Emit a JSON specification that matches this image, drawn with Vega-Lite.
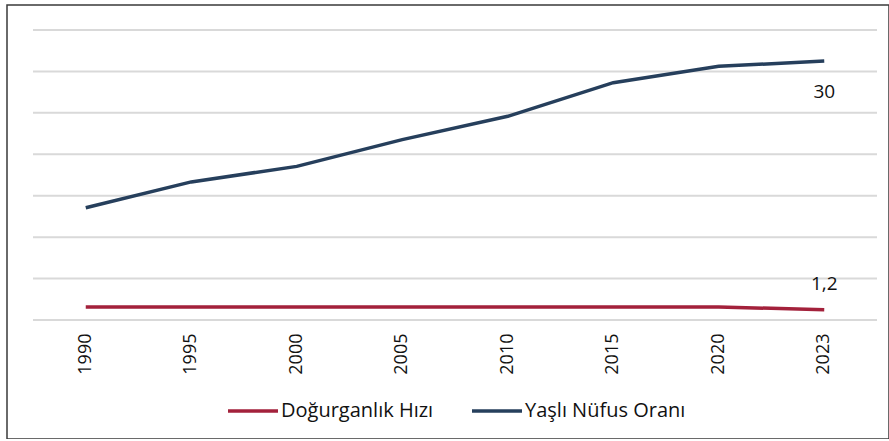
{
  "$schema": "https://vega.github.io/schema/vega-lite/v6.json",
  "width": 882,
  "height": 434,
  "padding": {"left": 7, "top": 5, "right": 0, "bottom": 0},
  "autosize": {"type": "none"},
  "background": "white",
  "config": {
    "view": {"stroke": "#3a3a3a", "strokeWidth": 1.5},
    "font": "Open Sans"
  },
  "datasets": {
    "series": [
      {"year": "1990", "series": "Doğurganlık Hızı", "value": 1.5, "label": ""},
      {"year": "1995", "series": "Doğurganlık Hızı", "value": 1.5, "label": ""},
      {"year": "2000", "series": "Doğurganlık Hızı", "value": 1.5, "label": ""},
      {"year": "2005", "series": "Doğurganlık Hızı", "value": 1.5, "label": ""},
      {"year": "2010", "series": "Doğurganlık Hızı", "value": 1.5, "label": ""},
      {"year": "2015", "series": "Doğurganlık Hızı", "value": 1.5, "label": ""},
      {"year": "2020", "series": "Doğurganlık Hızı", "value": 1.5, "label": ""},
      {"year": "2023", "series": "Doğurganlık Hızı", "value": 1.2, "label": "1,2"},
      {"year": "1990", "series": "Yaşlı Nüfus Oranı", "value": 13.0, "label": ""},
      {"year": "1995", "series": "Yaşlı Nüfus Oranı", "value": 16.0, "label": ""},
      {"year": "2000", "series": "Yaşlı Nüfus Oranı", "value": 17.8, "label": ""},
      {"year": "2005", "series": "Yaşlı Nüfus Oranı", "value": 20.9, "label": ""},
      {"year": "2010", "series": "Yaşlı Nüfus Oranı", "value": 23.6, "label": ""},
      {"year": "2015", "series": "Yaşlı Nüfus Oranı", "value": 27.5, "label": ""},
      {"year": "2020", "series": "Yaşlı Nüfus Oranı", "value": 29.4, "label": ""},
      {"year": "2023", "series": "Yaşlı Nüfus Oranı", "value": 30.0, "label": "30"}
    ],
    "grid": [
      {"v": 0}, {"v": 4.8}, {"v": 9.6}, {"v": 14.4},
      {"v": 19.2}, {"v": 24}, {"v": 28.8}, {"v": 33.6}
    ]
  },
  "data": {"name": "series"},
  "layer": [
    {
      "data": {"name": "grid"},
      "mark": {"type": "rule", "color": "#d9d9d9", "strokeWidth": 2},
      "encoding": {
        "y": {"field": "v", "type": "quantitative", "axis": null,
              "scale": {"domain": [-13.79, 36.5], "nice": false, "zero": false}},
        "x": {"datum": "1990", "type": "ordinal", "bandPosition": 0},
        "x2": {"datum": "2023", "bandPosition": 1}
      }
    },
    {
      "mark": {"type": "line", "strokeWidth": 3.5, "interpolate": "linear"},
      "encoding": {
        "x": {
          "field": "year", "type": "ordinal", "bandPosition": 0.5,
          "scale": {
            "type": "band",
            "domain": ["1990", "1995", "2000", "2005", "2010", "2015", "2020", "2023"],
            "range": [26, 870],
            "paddingInner": 0, "paddingOuter": 0
          },
          "axis": {
            "title": null, "labelAngle": -90, "labelFontSize": 18, "labelColor": "#111111",
            "ticks": false, "domain": false, "grid": false, "offset": -119, "labelPadding": 13
          }
        },
        "y": {"field": "value", "type": "quantitative", "axis": null},
        "color": {
          "field": "series", "type": "nominal",
          "scale": {"domain": ["Doğurganlık Hızı", "Yaşlı Nüfus Oranı"], "range": ["#a3213b", "#263f5c"]},
          "legend": {
            "title": null, "orient": "none", "direction": "horizontal",
            "legendX": 219, "legendY": 379,
            "symbolType": "stroke", "symbolSize": 2500, "symbolStrokeWidth": 3.5,
            "labelFontSize": 20, "labelColor": "#111111", "labelOffset": 1,
            "labelLimit": 400, "columnPadding": 31
          }
        }
      }
    },
    {
      "transform": [{"filter": "datum.label == '30'"}],
      "mark": {"type": "text", "fontSize": 19, "color": "#111111", "dy": 31},
      "encoding": {
        "x": {"field": "year", "type": "ordinal", "bandPosition": 0.5},
        "y": {"field": "value", "type": "quantitative"},
        "text": {"field": "label"}
      }
    },
    {
      "transform": [{"filter": "datum.label == '1,2'"}],
      "mark": {"type": "text", "fontSize": 19, "color": "#111111", "dy": -26},
      "encoding": {
        "x": {"field": "year", "type": "ordinal", "bandPosition": 0.5},
        "y": {"field": "value", "type": "quantitative"},
        "text": {"field": "label"}
      }
    }
  ]
}
